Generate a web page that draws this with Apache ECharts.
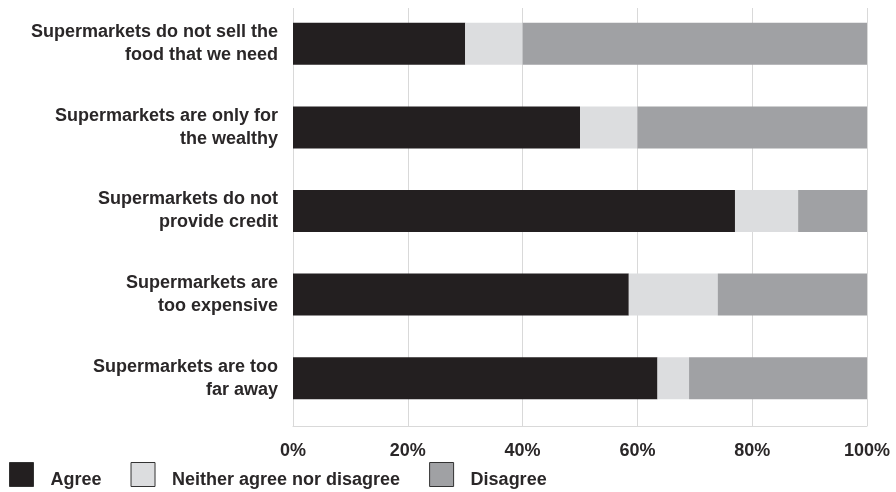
<!DOCTYPE html>
<html>
<head>
<meta charset="utf-8">
<script src="https://cdn.jsdelivr.net/npm/echarts@6/dist/echarts.min.js"></script>
<style>
    html, body { margin: 0; padding: 0; background: #fff; }
    #chart { width: 896px; height: 492px; }
</style>
</head>
<body>
<div id="chart"></div>
<script>
// 数据
const categories = [
    'Supermarkets do not sell the\nfood that we need',
    'Supermarkets are only for\nthe wealthy',
    'Supermarkets do not\nprovide credit',
    'Supermarkets are\ntoo expensive',
    'Supermarkets are too\nfar away'
];
const agree = [30, 50, 77, 58.5, 63.5];
const neither = [10, 10, 11, 15.5, 5.5];
const disagree = [60, 40, 12, 26, 31];
const seriesNames = ['Agree', 'Neither agree nor disagree', 'Disagree'];
const xTicks = [0, 20, 40, 60, 80, 100];

const FONT = 'Arial, "Liberation Sans", sans-serif';
const TEXT = '#2a2728';
const GRIDLINE = '#d9d9d9';
const colors = ['#231f20', '#dcdddf', '#a0a1a4'];

const chart = echarts.init(document.getElementById('chart'));

const xMin = xTicks[0];
const xMax = xTicks[xTicks.length - 1];

chart.setOption({
    animation: false,
    color: colors,
    legend: {
        left: 9,
        top: 462,
        padding: 0,
        data: seriesNames,
        icon: 'rect',
        itemWidth: 24,
        itemHeight: 24,
        itemGap: 29,
        selectedMode: false,
        itemStyle: { borderColor: '#333', borderWidth: 1 },
        formatter: '{t|{name}}',
        textStyle: {
            fontFamily: FONT,
            fontSize: 18,
            fontWeight: 'bold',
            color: TEXT,
            padding: [0, 0, 0, 12],
            rich: {
                t: {
                    fontFamily: FONT,
                    fontSize: 18,
                    fontWeight: 'bold',
                    color: TEXT,
                    padding: [11, 0, 0, 0]
                }
            }
        }
    },
    // 第一个网格放柱子，第二个网格画刻度和网格线
    grid: [
        { left: 293, right: 29, top: 2, height: 418 },
        { left: 293, right: 29, top: 8, height: 418 }
    ],
    xAxis: [
        {
            gridIndex: 0,
            type: 'value',
            min: xMin,
            max: xMax,
            show: false
        },
        {
            gridIndex: 1,
            type: 'value',
            min: xMin,
            max: xMax,
            interval: 20,
            axisLine: { show: true, lineStyle: { color: GRIDLINE } },
            axisTick: { show: false },
            splitLine: { show: true, lineStyle: { color: GRIDLINE, width: 1 } },
            axisLabel: {
                margin: 16,
                formatter: '{value}%',
                fontFamily: FONT,
                fontSize: 18,
                fontWeight: 'bold',
                color: TEXT
            }
        }
    ],
    yAxis: [
        {
            gridIndex: 0,
            type: 'category',
            inverse: true,
            data: categories,
            axisLine: { show: false },
            axisTick: { show: false },
            axisLabel: {
                margin: 15,
                fontFamily: FONT,
                fontSize: 18,
                fontWeight: 'bold',
                lineHeight: 23,
                color: TEXT,
                align: 'right'
            }
        },
        {
            gridIndex: 1,
            type: 'value',
            show: false
        }
    ],
    series: [
        { name: seriesNames[0], type: 'bar', stack: 'total', barWidth: 42, data: agree },
        { name: seriesNames[1], type: 'bar', stack: 'total', barWidth: 42, data: neither },
        { name: seriesNames[2], type: 'bar', stack: 'total', barWidth: 42, data: disagree }
    ]
});
</script>
</body>
</html>
